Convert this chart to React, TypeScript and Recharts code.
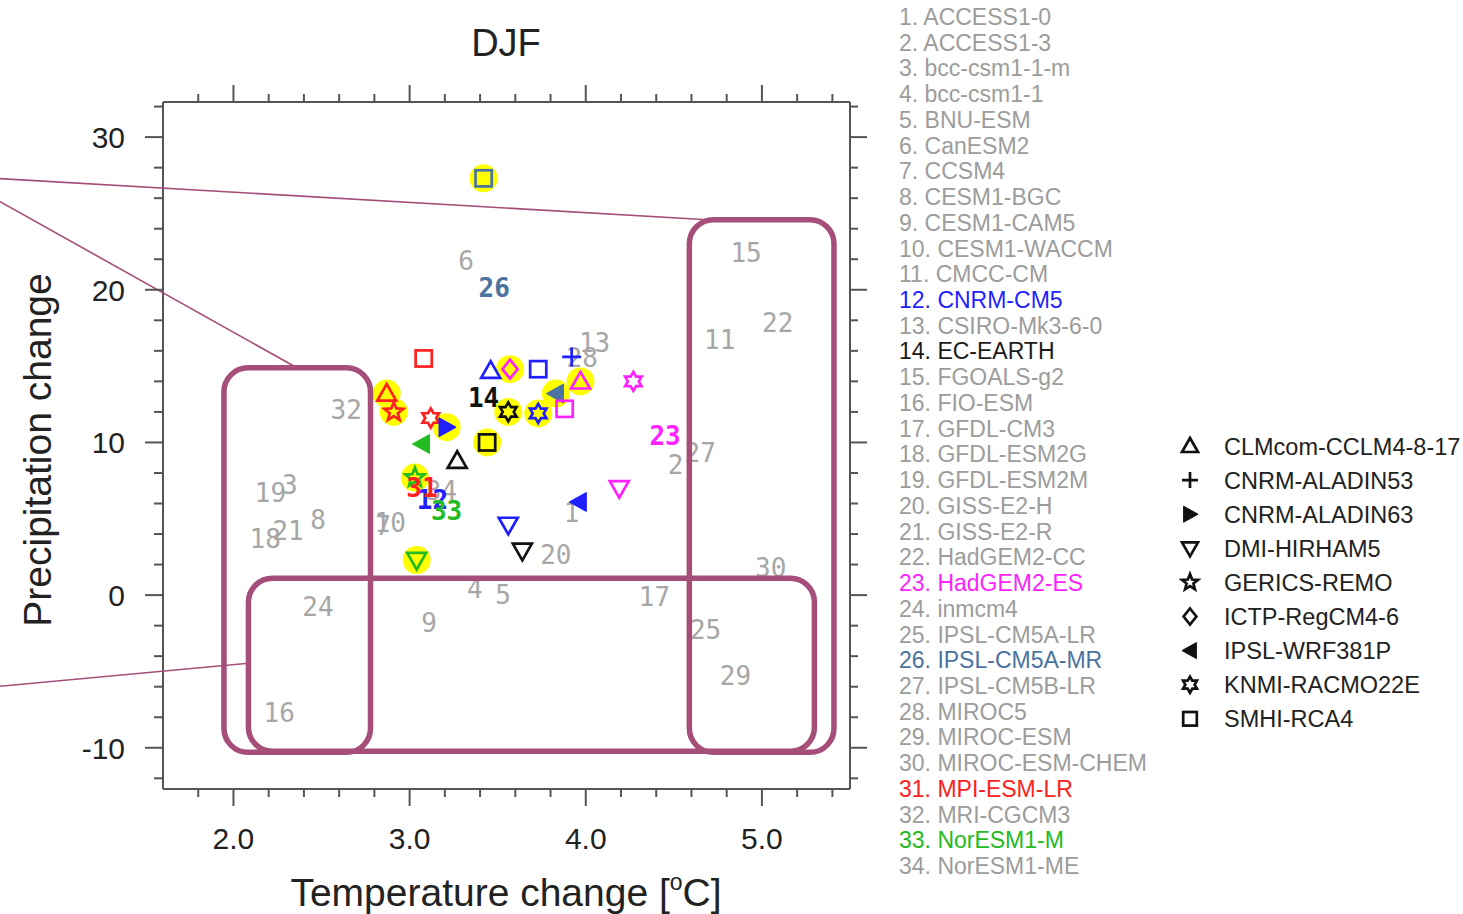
import { ScatterChart, Scatter, XAxis, YAxis, ReferenceArea, ReferenceLine } from 'recharts'

const FONT = '"Liberation Sans", Arial, Helvetica, sans-serif'
const MONO = '"DejaVu Sans Mono", monospace'
const BOX = '#a44e79'
const GRAY = '#a6a6a6'

// driving GCMs (numbered list on the right)
const gcmNames = [
  'ACCESS1-0', 'ACCESS1-3', 'bcc-csm1-1-m', 'bcc-csm1-1', 'BNU-ESM', 'CanESM2', 'CCSM4', 'CESM1-BGC',
  'CESM1-CAM5', 'CESM1-WACCM', 'CMCC-CM', 'CNRM-CM5', 'CSIRO-Mk3-6-0', 'EC-EARTH', 'FGOALS-g2',
  'FIO-ESM', 'GFDL-CM3', 'GFDL-ESM2G', 'GFDL-ESM2M', 'GISS-E2-H', 'GISS-E2-R', 'HadGEM2-CC',
  'HadGEM2-ES', 'inmcm4', 'IPSL-CM5A-LR', 'IPSL-CM5A-MR', 'IPSL-CM5B-LR', 'MIROC5', 'MIROC-ESM',
  'MIROC-ESM-CHEM', 'MPI-ESM-LR', 'MRI-CGCM3', 'NorESM1-M', 'NorESM1-ME',
]
// where each GCM number sits in the plot
const gcmTemp = [3.92, 4.51, 2.32, 3.37, 3.53, 3.32, 2.85, 2.48, 3.11, 2.89, 4.76, 3.13, 4.05, 3.42, 4.91, 2.26, 4.39,
  2.18, 2.21, 3.83, 2.31, 5.09, 4.45, 2.48, 4.68, 3.48, 4.65, 3.98, 4.85, 5.05, 3.07, 2.64, 3.21, 3.18]
const gcmPrecip = [5.4, 8.5, 7.2, 0.4, 0.0, 21.9, 4.5, 4.9, -1.8, 4.7, 16.7, 6.2, 16.5, 12.9, 22.4, -7.7, -0.1,
  3.7, 6.7, 2.6, 4.2, 17.8, 10.4, -0.8, -2.3, 20.1, 9.3, 15.5, -5.3, 1.8, 7.0, 12.1, 5.5, 6.8]
const gcmColors: Record<number, string> = {
  12: '#1f1fff', 14: '#111111', 23: '#ff22ff', 26: '#4a73a0', 31: '#ff2020', 33: '#22bb22',
}

// RCMs (symbol legend)
const rcmNames = ['CLMcom-CCLM4-8-17', 'CNRM-ALADIN53', 'CNRM-ALADIN63', 'DMI-HIRHAM5', 'GERICS-REMO',
  'ICTP-RegCM4-6', 'IPSL-WRF381P', 'KNMI-RACMO22E', 'SMHI-RCA4']
const rcmShapes = ['triangle', 'plus', 'right', 'down', 'star', 'diamond', 'left', 'hexagram', 'square']

// GCM-RCM simulations
const simRcm = [8, 8, 0, 5, 8, 1, 0, 7, 0, 4, 6, 7, 7, 8, 7, 2, 6, 8, 0, 4, 3, 6, 3, 3, 3]
const simGcm = [26, 31, 12, 23, 12, 12, 23, 23, 31, 31, 26, 14, 12, 23, 31, 12, 33, 14, 14, 33, 23, 12, 12, 14, 33]
const simTemp = [3.42, 3.08, 3.46, 3.57, 3.73, 3.92, 3.97, 4.27, 2.87, 2.91, 3.83, 3.56, 3.73, 3.88, 3.12, 3.21,
  3.07, 3.44, 3.27, 3.03, 4.19, 3.96, 3.56, 3.64, 3.04]
const simPrecip = [27.3, 15.5, 14.7, 14.8, 14.8, 15.6, 14.0, 14.0, 13.2, 12.0, 13.2, 12.0, 11.9, 12.2, 11.6, 11.0,
  9.9, 10.0, 8.8, 7.7, 7.0, 6.1, 4.6, 2.9, 2.3]
const simHighlight = [1, 0, 0, 1, 0, 0, 1, 0, 1, 1, 1, 1, 1, 0, 0, 1, 0, 1, 0, 1, 0, 0, 0, 0, 1]

// axes
const tempMajor = [2, 3, 4, 5]
const tempTicks = [1.8, 2, 2.2, 2.4, 2.6, 2.8, 3, 3.2, 3.4, 3.6, 3.8, 4, 4.2, 4.4, 4.6, 4.8, 5, 5.2, 5.4]
const precipMajor = [-10, 0, 10, 20, 30]
const precipTicks = [-12, -10, -8, -6, -4, -2, 0, 2, 4, 6, 8, 10, 12, 14, 16, 18, 20, 22, 24, 26, 28, 30, 32]

// highlighted groups (x1, x2, y1, y2)
const groupBoxes = [
  [1.946, 2.778, 14.89, -10.3],
  [2.085, 5.298, 1.11, -10.23],
  [4.588, 5.409, 24.59, -10.3],
]
// pointer lines coming in from the left
const pointerLines = [
  [0.6, 27.33, 4.69, 24.59],
  [0.6, 26.26, 2.36, 14.89],
  [0.6, -6.05, 2.085, -4.46],
]

const sims = simTemp.map((t, i) => ({
  x: t, y: simPrecip[i], shape: rcmShapes[simRcm[i]], color: gcmColors[simGcm[i]], hl: simHighlight[i],
}))
const labels = gcmNames.map((n, i) => ({ x: gcmTemp[i], y: gcmPrecip[i], num: i + 1, name: n }))
const grayLabels = labels.filter((l) => !gcmColors[l.num])
const colorLabels = labels.filter((l) => gcmColors[l.num])

function pts(list: number[][]) {
  return list.map((p) => p.join(',')).join(' ')
}

function Marker({ cx, cy, shape, color, r = 9.5 }: any) {
  const sw = 2.7
  const line = { fill: 'none', stroke: color, strokeWidth: sw, strokeLinejoin: 'miter' as const }
  switch (shape) {
    case 'triangle':
      return <polygon points={pts([[cx, cy - r], [cx + r, cy + r * 0.75], [cx - r, cy + r * 0.75]])} {...line} />
    case 'down':
      return <polygon points={pts([[cx - r, cy - r * 0.75], [cx + r, cy - r * 0.75], [cx, cy + r]])} {...line} />
    case 'right':
      return <polygon points={pts([[cx - r * 0.8, cy - r], [cx + r, cy], [cx - r * 0.8, cy + r]])} fill={color} stroke={color} strokeWidth={1} />
    case 'left':
      return <polygon points={pts([[cx + r * 0.8, cy - r], [cx - r, cy], [cx + r * 0.8, cy + r]])} fill={color} stroke={color} strokeWidth={1} />
    case 'square':
      return <rect x={cx - r * 0.85} y={cy - r * 0.85} width={r * 1.7} height={r * 1.7} {...line} />
    case 'diamond':
      return <polygon points={pts([[cx, cy - r], [cx + r * 0.8, cy], [cx, cy + r], [cx - r * 0.8, cy]])} {...line} />
    case 'plus':
      return <path d={`M${cx - r},${cy}H${cx + r}M${cx},${cy - r}V${cy + r}`} {...line} />
    case 'star': {
      const p: number[][] = []
      for (let k = 0; k < 10; k++) {
        const a = ((-90 + 36 * k) * Math.PI) / 180
        const rr = k % 2 === 0 ? r * 1.05 : r * 0.45
        p.push([cx + rr * Math.cos(a), cy + rr * Math.sin(a)])
      }
      return <polygon points={pts(p)} {...line} />
    }
    case 'hexagram': {
      const p: number[][] = []
      for (let k = 0; k < 12; k++) {
        const a = ((-90 + 30 * k) * Math.PI) / 180
        const rr = k % 2 === 0 ? r : r / Math.sqrt(3)
        p.push([cx + rr * Math.cos(a), cy + rr * Math.sin(a)])
      }
      return <polygon points={pts(p)} {...line} />
    }
    default:
      return null
  }
}

const BottomTick = ({ x, y, payload }: any) => {
  const major = tempMajor.includes(payload.value)
  return (
    <g>
      <line x1={x} x2={x} y1={y} y2={y + (major ? 17 : 8)} stroke="#555" strokeWidth={2} />
      {major && (
        <text x={x} y={y + 60} textAnchor="middle" fontSize={30} fontFamily={FONT} fill="#222">
          {payload.value.toFixed(1)}
        </text>
      )}
    </g>
  )
}
const TopTick = ({ x, y, payload }: any) => {
  const major = tempMajor.includes(payload.value)
  return <line x1={x} x2={x} y1={y} y2={y - (major ? 17 : 8)} stroke="#555" strokeWidth={2} />
}
const LeftTick = ({ x, y, payload }: any) => {
  const major = precipMajor.includes(payload.value)
  return (
    <g>
      <line x1={x} x2={x - (major ? 18 : 9)} y1={y} y2={y} stroke="#555" strokeWidth={2} />
      {major && (
        <text x={x - 38} y={y + 11} textAnchor="end" fontSize={30} fontFamily={FONT} fill="#222">
          {payload.value}
        </text>
      )}
    </g>
  )
}
const RightTick = ({ x, y, payload }: any) => {
  const major = precipMajor.includes(payload.value)
  return <line x1={x} x2={x + (major ? 17 : 8)} y1={y} y2={y} stroke="#555" strokeWidth={2} />
}

export default function App() {
  return (
    <div style={{ position: 'absolute', left: 0, top: 0, width: 1463, height: 914, background: '#fff', overflow: 'hidden' }}>
      <ScatterChart width={880} height={914} margin={{ top: 82, right: 10, bottom: 105, left: 143 }}>
        <XAxis xAxisId="b" type="number" dataKey="x" domain={[1.6, 5.5]} allowDataOverflow ticks={tempTicks}
          interval={0} height={20} tickSize={0} tickMargin={0} tickLine={false} tick={BottomTick}
          axisLine={{ stroke: '#555', strokeWidth: 2 }} />
        <XAxis xAxisId="t" orientation="top" type="number" dataKey="x" domain={[1.6, 5.5]} allowDataOverflow
          ticks={tempTicks} interval={0} height={20} tickSize={0} tickMargin={0} tickLine={false} tick={TopTick}
          axisLine={{ stroke: '#555', strokeWidth: 2 }} />
        <YAxis yAxisId="l" type="number" dataKey="y" domain={[-12.7, 32.3]} allowDataOverflow ticks={precipTicks}
          interval={0} width={20} tickSize={0} tickMargin={0} tickLine={false} tick={LeftTick}
          axisLine={{ stroke: '#555', strokeWidth: 2 }} />
        <YAxis yAxisId="r" orientation="right" type="number" dataKey="y" domain={[-12.7, 32.3]} allowDataOverflow
          ticks={precipTicks} interval={0} width={20} tickSize={0} tickMargin={0} tickLine={false} tick={RightTick}
          axisLine={{ stroke: '#555', strokeWidth: 2 }} />

        <Scatter xAxisId="t" yAxisId="r" data={[]} isAnimationActive={false} />

        <Scatter xAxisId="b" yAxisId="l" data={grayLabels} isAnimationActive={false}
          shape={(p: any) => (
            <text x={p.cx} y={p.cy} textAnchor="middle" dominantBaseline="central" fontSize={26}
              fontFamily={MONO} fill={GRAY}>{p.payload.num}</text>
          )} />
        <Scatter xAxisId="b" yAxisId="l" data={sims.filter((s) => s.hl)} isAnimationActive={false}
          shape={(p: any) => <circle cx={p.cx} cy={p.cy} r={14} fill="#ffff00" />} />
        <Scatter xAxisId="b" yAxisId="l" data={sims} isAnimationActive={false}
          shape={(p: any) => <Marker cx={p.cx} cy={p.cy} shape={p.payload.shape} color={p.payload.color} />} />
        <Scatter xAxisId="b" yAxisId="l" data={colorLabels} isAnimationActive={false}
          shape={(p: any) => (
            <text x={p.cx} y={p.cy} textAnchor="middle" dominantBaseline="central" fontSize={26}
              fontWeight="bold" fontFamily={MONO} fill={gcmColors[p.payload.num]}>{p.payload.num}</text>
          )} />

        {groupBoxes.map((b, i) => (
          <ReferenceArea key={'box' + i} xAxisId="b" yAxisId="l" x1={b[0]} x2={b[1]} y1={b[2]} y2={b[3]}
            ifOverflow="visible" zIndex={1000}
            shape={(p: any) => (
              <rect x={p.x} y={p.y} width={p.width} height={p.height} rx={24} ry={24} fill="none"
                stroke={BOX} strokeWidth={5.5} />
            )} />
        ))}
        {pointerLines.map((l, i) => (
          <ReferenceLine key={'ln' + i} xAxisId="b" yAxisId="l" ifOverflow="visible" zIndex={1000}
            segment={[{ x: l[0], y: l[1] }, { x: l[2], y: l[3] }]} stroke={BOX} strokeWidth={1.6} />
        ))}
      </ScatterChart>

      <svg width={1463} height={914} style={{ position: 'absolute', left: 0, top: 0, pointerEvents: 'none' }}>
        <text x={506} y={56} textAnchor="middle" fontSize={38} fontFamily={FONT} fill="#222">DJF</text>
        <text x={506} y={906} textAnchor="middle" fontSize={39} fontFamily={FONT} fill="#222">
          Temperature change [<tspan fontSize={23} dy={-16}>o</tspan><tspan dy={16}>C]</tspan>
        </text>
        <text transform="translate(51,450) rotate(-90)" textAnchor="middle" fontSize={39} fontFamily={FONT}
          fill="#222">Precipitation change</text>

        {gcmNames.map((n, i) => (
          <text key={n} x={899} y={25 + i * 25.73} fontSize={23} fontFamily={FONT}
            fill={gcmColors[i + 1] ? (i + 1 === 14 ? '#1a1a1a' : gcmColors[i + 1]) : '#9c9c9c'}>
            {i + 1}. {n}
          </text>
        ))}

        {rcmNames.map((n, i) => (
          <g key={n}>
            <Marker cx={1190} cy={446 + i * 34.1} shape={rcmShapes[i]} color="#111" r={8} />
            <text x={1224} y={454.5 + i * 34.1} fontSize={23.5} fontFamily={FONT} fill="#222">{n}</text>
          </g>
        ))}
      </svg>
    </div>
  )
}
